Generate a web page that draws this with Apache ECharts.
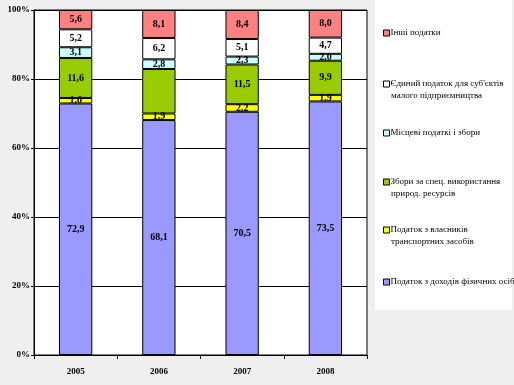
<!DOCTYPE html>
<html><head><meta charset="utf-8">
<script src="https://cdn.jsdelivr.net/npm/echarts@6/dist/echarts.min.js"></script>
<style>html,body{margin:0;padding:0;}#c{width:514px;height:385px;}</style>
</head><body><div id="c"></div>
<script>
const categories = ['2005', '2006', '2007', '2008'];
const seriesNames = [
  'Податок з доходів фізичних осіб',
  'Податок з власників',
  'Збори за спец. використання',
  'Місцеві податкі і збори',
  'Єдиний податок для суб\'єктів',
  'Інші податки'
];
const secondLines = ['', 'транспортних засобів', 'природ. ресурсів', '', 'малого підприємництва', ''];
const pit = [72.9, 68.1, 70.5, 73.5];
const transport = [1.6, 1.9, 2.2, 1.9];
const natural = [11.6, 12.9, 11.5, 9.9];
const local = [3.1, 2.8, 2.3, 2.0];
const single = [5.2, 6.2, 5.1, 4.7];
const other = [5.6, 8.1, 8.4, 8.0];
const values = [pit, transport, natural, local, single, other];
const hiddenLabels = [[], [], [1], [], [], []];
const yTicks = ['0%', '20%', '40%', '60%', '80%', '100%'];

const colors = ['#9999FF', '#FFFF00', '#99CC00', '#CCFFFF', '#FFFFFF', '#FF8080'];
const serif = '"Liberation Serif", "Times New Roman", serif';

const series = values.map((arr, i) => ({
  name: seriesNames[i],
  type: 'bar',
  stack: 's',
  barWidth: '40%',
  data: arr.map((v, j) => ({
    value: v,
    label: { show: hiddenLabels[i].indexOf(j) < 0 }
  })),
  itemStyle: { color: colors[i], borderColor: '#000', borderWidth: 1 },
  label: {
    show: true, position: 'inside', color: '#000',
    fontFamily: serif, fontWeight: 'bold', fontSize: 10,
    formatter: p => p.value.toFixed(1).replace('.', ',')
  }
}));

const legendCenters = [282, 230, 182, 133, 84, 33];
const legends = seriesNames.map((n, i) => ({
  data: [n], left: 383, top: legendCenters[i] - 6, orient: 'vertical',
  itemWidth: 6, itemHeight: 6, icon: 'rect', itemGap: 0,
  selectedMode: false, padding: 0,
  itemStyle: { borderColor: '#000', borderWidth: 1 },
  textStyle: { fontFamily: serif, fontSize: 9, color: '#000', padding: [0, 0, 0, -4], lineHeight: 12 }
}));
const graphics = [
  { type: 'rect', shape: { x: 375, y: 0, width: 137, height: 310 }, style: { fill: '#FFFFFF' }, z: -10 }
];
secondLines.forEach((t, i) => {
  if (t) graphics.push({ type: 'text', left: 391, top: legendCenters[i] + 7,
    style: { text: t, font: '9px ' + serif, fill: '#000' } });
});

const chart = echarts.init(document.getElementById('c'));
chart.setOption({
  animation: false,
  backgroundColor: '#EFEFEF',
  graphic: graphics,
  legend: legends,
  grid: { left: 34, right: 147, top: 10, bottom: 30, show: true, backgroundColor: '#FFFFFF', borderColor: '#000', borderWidth: 1 },
  xAxis: {
    type: 'category', data: categories,
    axisLine: { lineStyle: { color: '#000' } },
    axisTick: { show: true, length: 4, lineStyle: { color: '#000' } },
    axisLabel: { fontFamily: serif, fontWeight: 'bold', fontSize: 9, color: '#000', margin: 12 }
  },
  yAxis: {
    type: 'value', min: 0, max: 100, interval: 20,
    axisLine: { show: true, lineStyle: { color: '#000' } },
    axisTick: { show: true, length: 3, lineStyle: { color: '#000' } },
    splitLine: { lineStyle: { color: '#000', width: 1 } },
    axisLabel: { fontFamily: serif, fontWeight: 'bold', fontSize: 9, color: '#000', margin: 4,
      formatter: (v) => yTicks[v / 20] }
  },
  series: series
});
</script></body></html>
